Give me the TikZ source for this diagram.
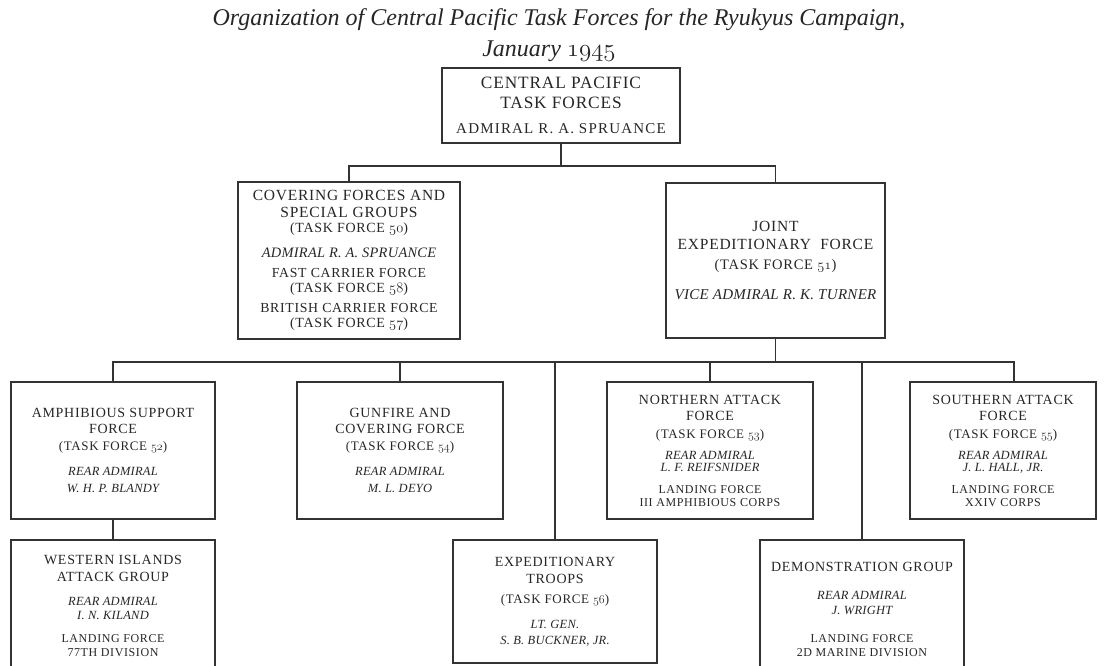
\documentclass[tikz,border=0pt]{standalone}
\usepackage{fontspec}
\setmainfont{Liberation Serif}
% old style figures taken from the math italic font
\newcommand{\osf}[1]{{\fontencoding{OML}\fontfamily{cmm}\fontseries{m}\fontshape{it}\selectfont #1}}
\newcommand{\unitcaps}[2][14]{{\fontsize{#1}{16}\selectfont\addfontfeature{LetterSpace=5}#2}}
\newcommand{\subcaps}[2][12]{{\fontsize{#1}{16}\selectfont\addfontfeature{LetterSpace=5}#2}}
\newcommand{\tfline}[2][13]{{\fontsize{#1}{16}\selectfont\addfontfeature{LetterSpace=5}(TASK FORCE \osf{#2})}}
\newcommand{\cdrline}[2][12.5]{{\fontsize{#1}{16}\selectfont\itshape\addfontfeature{LetterSpace=2}#2}}

\begin{document}
\begin{tikzpicture}[x=1pt,y=-1pt,
  box/.style={draw=black!80, line width=1.1pt, text=black!85, align=center,
    inner sep=0pt, font=\fontsize{14}{16}\selectfont},
  link/.style={draw=black!80, line width=1.1pt}]
\useasboundingbox (0,0) rectangle (1106,666);
\clip (0,0) rectangle (1106,666);
% title
\node[text=black!85, font=\fontsize{24}{26}\selectfont\itshape] (title) at (559,20)
  {Organization of Central Pacific Task Forces for the Ryukyus Campaign,};
\node[text=black!85, font=\fontsize{24}{26}\selectfont\itshape] (date) at (549,51)
  {January \osf{1945}};
% top
\node[box, minimum width=238pt, minimum height=75pt] (cpac) at (561,105.5)
  {\unitcaps[17.3]{CENTRAL PACIFIC}\\[4pt] \unitcaps[17.3]{TASK FORCES}\\[9pt]
   {\fontsize{15}{16}\selectfont\addfontfeature{LetterSpace=8}ADMIRAL R. A. SPRUANCE}};
% second row
\node[box, minimum width=222pt, minimum height=157pt] (cover) at (349,260.5)
  {\unitcaps[15.5]{COVERING FORCES AND}\\[1pt] \unitcaps[15.5]{SPECIAL GROUPS}\\[-1pt] \tfline[14]{50}\\[9pt]
   \cdrline[14.4]{ADMIRAL R. A. SPRUANCE}\\[4pt] \subcaps[13.8]{FAST CARRIER FORCE}\\[-1pt] \tfline[14]{58}\\[4pt]
   \subcaps[13.8]{BRITISH CARRIER FORCE}\\[-1pt] \tfline[14]{57}};
\node[box, minimum width=219pt, minimum height=155pt] (jef) at (775.5,260.5)
  {\unitcaps[15.5]{JOINT}\\[2pt] \unitcaps[15.5]{EXPEDITIONARY\ \ FORCE}\\[4pt] \tfline[14.5]{51}\\[14pt]
   \cdrline[15]{VICE ADMIRAL R. K. TURNER}};
% third row
\node[box, minimum width=204pt, minimum height=137pt] (amph) at (113,450.5)
  {\unitcaps{AMPHIBIOUS SUPPORT}\\ \unitcaps{FORCE}\\[1pt] \tfline{52}\\[9pt]
   \cdrline{REAR ADMIRAL}\\[1pt] \cdrline{W. H. P. BLANDY}};
\node[box, minimum width=206pt, minimum height=137pt] (gunfire) at (400,450.5)
  {\unitcaps{GUNFIRE AND}\\ \unitcaps{COVERING FORCE}\\[1pt] \tfline{54}\\[9pt]
   \cdrline{REAR ADMIRAL}\\[1pt] \cdrline{M. L. DEYO}};
\node[box, minimum width=206pt, minimum height=137pt] (nattack) at (710,450.5)
  {\unitcaps{NORTHERN ATTACK}\\ \unitcaps{FORCE}\\[2pt] \tfline{53}\\[5pt]
   \cdrline{REAR ADMIRAL}\\[-4pt] \cdrline{L. F. REIFSNIDER}\\[6pt]
   \subcaps{LANDING FORCE}\\[-3pt] \subcaps{III AMPHIBIOUS CORPS}};
\node[box, minimum width=186pt, minimum height=137pt] (sattack) at (1003,450.5)
  {\unitcaps{SOUTHERN ATTACK}\\ \unitcaps{FORCE}\\[2pt] \tfline{55}\\[5pt]
   \cdrline{REAR ADMIRAL}\\[-4pt] \cdrline{J. L. HALL, JR.}\\[6pt]
   \subcaps{LANDING FORCE}\\[-3pt] \subcaps{XXIV CORPS}};
% fourth row (two of them run off the page)
\node[box, minimum width=204pt, minimum height=132pt] (western) at (113,606)
  {\unitcaps{WESTERN ISLANDS}\\[1pt] \unitcaps{ATTACK GROUP}\\[8pt]
   \cdrline{REAR ADMIRAL}\\[-2pt] \cdrline{I. N. KILAND}\\[7pt]
   \subcaps{LANDING FORCE}\\[-2pt] \subcaps{77TH DIVISION}};
\node[box, minimum width=204pt, minimum height=123pt] (extroops) at (555,601.5)
  {\unitcaps{EXPEDITIONARY}\\[1pt] \unitcaps{TROOPS}\\[4pt] \tfline{56}\\[9pt]
   \cdrline{LT. GEN.}\\[0pt] \cdrline{S. B. BUCKNER, JR.}};
\node[box, minimum width=204pt, minimum height=138pt] (demo) at (862,609)
  {\unitcaps{DEMONSTRATION GROUP}\\[12pt]
   \cdrline{REAR ADMIRAL}\\[-1pt] \cdrline{J. WRIGHT}\\[12pt]
   \subcaps{LANDING FORCE}\\[-2pt] \subcaps{2D MARINE DIVISION}};
% connectors
\coordinate (bus1) at (561,166);
\coordinate (bus2) at (775.5,362);
\draw[link] (cpac.south) -- (bus1);
\draw[link] (cover.north) |- (bus1) -| (jef.north);
\draw[link] (jef.south) -- (bus2);
\draw[link] (amph.north) |- (bus2) -| ([xshift=11pt]sattack.north);
\foreach \n in {gunfire,nattack,extroops,demo} % edit here for the drops
\draw[link] (\n.north) -- (\n.north |- bus2);
\draw[link] (amph.south) -- (western.north);
\end{tikzpicture}
\end{document}
